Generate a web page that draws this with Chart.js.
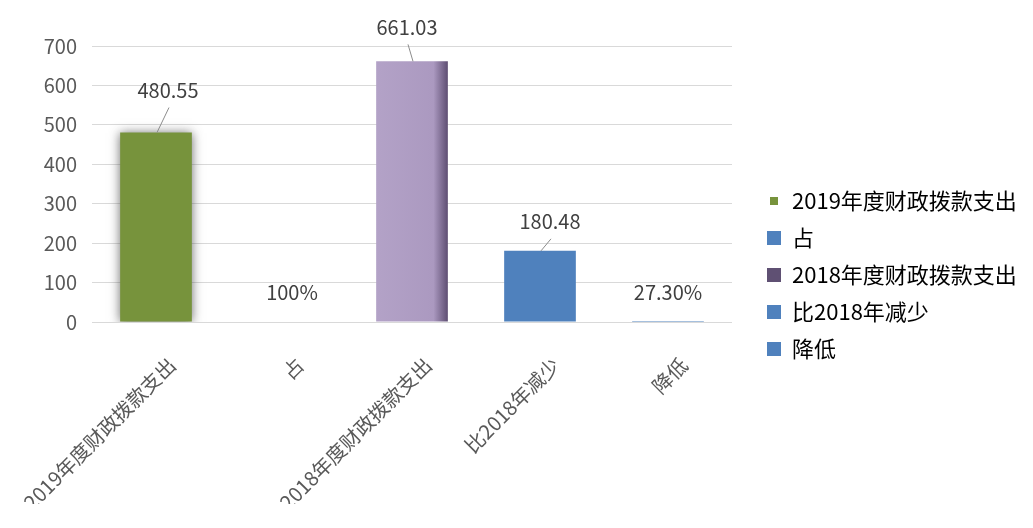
<!DOCTYPE html>
<html>
<head>
<meta charset="UTF-8">
<title>财政拨款支出</title>
<script src="https://cdn.jsdelivr.net/npm/chart.js@4.4.1/dist/chart.umd.min.js"></script>
<style>
  body { margin: 0; background: #fff; }
  #wrap { width: 1033px; height: 528px; }
</style>
</head>
<body>
<div id="wrap"><canvas id="myChart"></canvas></div>

<script>
  // 图表数据
  var categories = ["2019年度财政拨款支出", "占", "2018年度财政拨款支出", "比2018年减少", "降低"];
  var values = [480.55, 1, 661.03, 180.48, 0.273];
  var valueLabels = ["480.55", "100%", "661.03", "180.48", "27.30%"];
  var yTicks = [0, 100, 200, 300, 400, 500, 600, 700];

  // 样式
  var barColors = ["#77933C", "#4F81BD", "#B3A2C7", "#4F81BD", "#4F81BD"];
  var legendColors = ["#77933C", "#4F81BD", "#5F5073", "#4F81BD", "#4F81BD"];
  var swatchSizes = [8, 14, 14, 14, 14];
  var font = "'Noto Sans CJK SC', 'Noto Sans', sans-serif";

  function swatch(color, size) {
    var c = document.createElement("canvas");
    c.width = size; c.height = size;
    var g = c.getContext("2d");
    g.fillStyle = color;
    g.fillRect(0, 0, size, size);
    return c;
  }
  var swatches = legendColors.map(function (c, i) { return swatch(c, swatchSizes[i]); });

  // 紫色柱子右侧加深
  function barFill(ctx) {
    var i = ctx.dataIndex, chart = ctx.chart, area = chart.chartArea;
    if (i !== 2 || !area) return barColors[i];
    var x = chart.scales.x.getPixelForValue(i);
    var half = area.width / categories.length * 0.56 / 2;
    var g = chart.ctx.createLinearGradient(x - half, 0, x + half, 0);
    g.addColorStop(0, "#B3A2C7");
    g.addColorStop(0.8, "#AB99C0");
    g.addColorStop(1, "#5E4E72");
    return g;
  }

  // 图例宽度固定
  var legendWidth = {
    id: "legendWidth",
    beforeInit: function (chart) {
      var fit = chart.legend.fit;
      chart.legend.fit = function () { fit.call(this); this.width = 281; };
    }
  };

  // 绿色柱子阴影
  var barShadow = {
    id: "barShadow",
    beforeDatasetsDraw: function (chart) {
      var el = chart.getDatasetMeta(0).data[0];
      if (!el || el._shadowed) return;
      var draw = el.draw;
      el.draw = function (ctx) {
        ctx.save();
        ctx.shadowColor = "rgba(50,50,50,0.7)";
        ctx.shadowBlur = 10;
        draw.call(this, ctx);
        ctx.restore();
      };
      el._shadowed = true;
    }
  };

  // 数据标签 + 引导线
  var valueLabelPlugin = {
    id: "valueLabels",
    afterDatasetsDraw: function (chart, args, opts) {
      var ctx = chart.ctx, meta = chart.getDatasetMeta(0);
      ctx.save();
      ctx.font = "20px " + font;
      ctx.fillStyle = "#404040";
      ctx.textAlign = "center";
      ctx.textBaseline = "middle";
      ctx.strokeStyle = "#8C8C8C";
      ctx.lineWidth = 1;
      meta.data.forEach(function (bar, i) {
        var off = opts.offsets[i];
        var lx = bar.x + off[0], ly = bar.y + off[1];
        if (opts.leader[i]) {
          ctx.beginPath();
          ctx.moveTo(bar.x + 1, bar.y);
          ctx.lineTo(lx + 1, ly + 17);
          ctx.stroke();
        }
        ctx.fillText(valueLabels[i], lx, ly);
      });
      ctx.restore();
    }
  };

  new Chart("myChart", {
    type: "bar",
    data: {
      labels: categories,
      datasets: [{
        data: values,
        backgroundColor: barFill,
        categoryPercentage: 1,
        barPercentage: 0.56
      }]
    },
    options: {
      responsive: true,
      maintainAspectRatio: false,
      animation: false,
      layout: { padding: { top: 46, bottom: 24, left: 0, right: 0 } },
      scales: {
        x: {
          grid: { display: false, drawTicks: false },
          border: { display: false },
          ticks: {
            autoSkip: false,
            minRotation: 45, maxRotation: 45,
            labelOffset: 16, padding: 31,
            color: "#595959",
            font: { size: 20, family: font }
          },
          afterFit: function (s) {
            s.height = 182;
            s.paddingLeft = 0;
            s.paddingRight = 0;
          }
        },
        y: {
          min: yTicks[0], max: yTicks[yTicks.length - 1],
          afterBuildTicks: function (s) { s.ticks = yTicks.map(function (v) { return { value: v }; }); },
          afterFit: function (s) { s.width = 92; },
          grid: { color: "#D9D9D9", drawTicks: false },
          border: { display: false },
          ticks: { padding: 15, color: "#595959", font: { size: 20, family: font } }
        },
        y2: {
          position: "right",
          grid: { display: false, drawTicks: false },
          border: { display: false },
          ticks: { display: false },
          afterFit: function (s) { s.width = 20; }
        }
      },
      plugins: {
        tooltip: { enabled: false },
        legend: {
          position: "right",
          onClick: function () {},
          labels: {
            usePointStyle: true,
            boxWidth: 14, boxHeight: 14, padding: 15,
            color: "#595959",
            font: { size: 22, family: font },
            generateLabels: function () {
              return categories.map(function (c, i) {
                return { text: c, pointStyle: swatches[i], fillStyle: legendColors[i],
                         strokeStyle: legendColors[i], lineWidth: 0, hidden: false, index: i };
              });
            }
          }
        },
        valueLabels: {
          offsets: [[12, -42], [8, -29], [-5, -34], [10, -29], [0, -29]],
          leader: [true, false, true, true, false]
        }
      }
    },
    plugins: [legendWidth, barShadow, valueLabelPlugin]
  });
</script>
</body>
</html>
